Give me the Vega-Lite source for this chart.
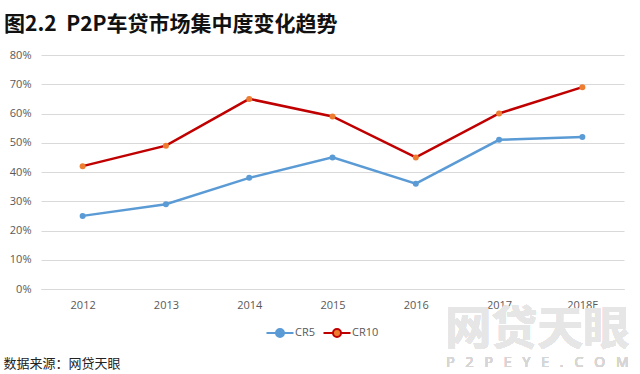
{
  "$schema": "https://vega.github.io/schema/vega-lite/v6.json",
  "width": 583,
  "height": 234,
  "autosize": {"type": "none"},
  "padding": {"left": 41, "top": 55, "right": 16, "bottom": 85},
  "background": "white",
  "title": {
    "text": "图2.2\u00a0\u00a0P2P车贷市场集中度变化趋势",
    "anchor": "start",
    "frame": "group",
    "dx": -37,
    "dy": 29,
    "offset": 26,
    "baseline": "alphabetic",
    "font": "Noto Sans CJK SC",
    "fontSize": 21,
    "fontWeight": "bold",
    "color": "#111111"
  },
  "config": {
    "view": {"stroke": null},
    "font": "Open Sans",
    "axis": {"labelFont": "Open Sans", "labelColor": "#595959", "labelFontSize": 11}
  },
  "data": {
    "values": [
      {"year": "2012", "series": "CR5", "value": 0.25},
      {"year": "2013", "series": "CR5", "value": 0.29},
      {"year": "2014", "series": "CR5", "value": 0.38},
      {"year": "2015", "series": "CR5", "value": 0.45},
      {"year": "2016", "series": "CR5", "value": 0.36},
      {"year": "2017", "series": "CR5", "value": 0.51},
      {"year": "2018E", "series": "CR5", "value": 0.52},
      {"year": "2012", "series": "CR10", "value": 0.42},
      {"year": "2013", "series": "CR10", "value": 0.49},
      {"year": "2014", "series": "CR10", "value": 0.65},
      {"year": "2015", "series": "CR10", "value": 0.59},
      {"year": "2016", "series": "CR10", "value": 0.45},
      {"year": "2017", "series": "CR10", "value": 0.60},
      {"year": "2018E", "series": "CR10", "value": 0.69}
    ]
  },
  "encoding": {
    "x": {
      "field": "year",
      "type": "nominal",
      "scale": {"type": "point", "padding": 0.5},
      "axis": {
        "labelAngle": 0,
        "labelPadding": 10,
        "ticks": false,
        "domain": true,
        "domainColor": "#d9d9d9",
        "title": "数据来源：网贷天眼",
        "titleFont": "Noto Sans CJK SC",
        "titleFontSize": 13,
        "titleFontWeight": "normal",
        "titleColor": "#222222",
        "titleX": -38,
        "titleY": 74,
        "titleAlign": "left",
        "titleAnchor": "start",
        "titleBaseline": "middle"
      }
    },
    "y": {
      "field": "value",
      "type": "quantitative",
      "scale": {"domain": [0, 0.8]},
      "axis": {
        "format": ".0%",
        "values": [0, 0.1, 0.2, 0.3, 0.4, 0.5, 0.6, 0.7, 0.8],
        "domain": false,
        "ticks": false,
        "labelPadding": 10,
        "gridColor": "#d9d9d9",
        "title": null
      }
    }
  },
  "layer": [
    {
      "mark": {"type": "text", "font": "Noto Sans CJK SC", "fontSize": 46, "fontWeight": "bold", "color": "#e6e6e6", "dx": -45, "baseline": "middle"},
      "encoding": {
        "x": {"datum": "2018E"},
        "y": {"datum": -0.14},
        "text": {"value": "网贷天眼"}
      }
    },
    {
      "mark": {"type": "text", "font": "Open Sans", "fontSize": 14, "color": "#d6d6d6", "dx": -45, "baseline": "middle"},
      "encoding": {
        "x": {"datum": "2018E"},
        "y": {"datum": -0.252},
        "text": {"value": "P\u00a0\u00a0\u00a02\u00a0\u00a0\u00a0P\u00a0\u00a0\u00a0E\u00a0\u00a0\u00a0Y\u00a0\u00a0\u00a0E\u00a0\u00a0\u00a0.\u00a0\u00a0\u00a0C\u00a0\u00a0\u00a0O\u00a0\u00a0\u00a0M"}
      }
    },
    {
      "mark": {"type": "line", "strokeWidth": 2.5},
      "encoding": {
        "stroke": {
          "field": "series",
          "type": "nominal",
          "scale": {"domain": ["CR5", "CR10"], "range": ["#5B9BD5", "#C00000"]},
          "legend": {
            "orient": "none",
            "direction": "horizontal",
            "legendX": 228,
            "legendY": 267,
            "title": null,
            "labelFontSize": 11,
            "labelColor": "#595959",
            "labelOffset": 4,
            "columnPadding": 3,
            "symbolType": "M-1.35,0H-0.4M0.4,0H1.35M-0.4,0A0.4,0.4 0 1,0 0.4,0A0.4,0.4 0 1,0 -0.4,0Z",
            "symbolStrokeWidth": 2,
            "symbolSize": 400
          }
        }
      }
    },
    {
      "mark": {"type": "point", "filled": true, "size": 36, "opacity": 1},
      "encoding": {
        "fill": {
          "field": "series",
          "type": "nominal",
          "scale": {"domain": ["CR5", "CR10"], "range": ["#5B9BD5", "#ED7D31"]},
          "legend": {
            "orient": "none",
            "direction": "horizontal",
            "legendX": 228,
            "legendY": 267,
            "title": null,
            "labelFontSize": 11,
            "labelColor": "#595959",
            "labelOffset": 4,
            "columnPadding": 3,
            "symbolType": "M-1.35,0H-0.4M0.4,0H1.35M-0.4,0A0.4,0.4 0 1,0 0.4,0A0.4,0.4 0 1,0 -0.4,0Z",
            "symbolStrokeWidth": 2,
            "symbolSize": 400
          }
        }
      }
    }
  ]
}
